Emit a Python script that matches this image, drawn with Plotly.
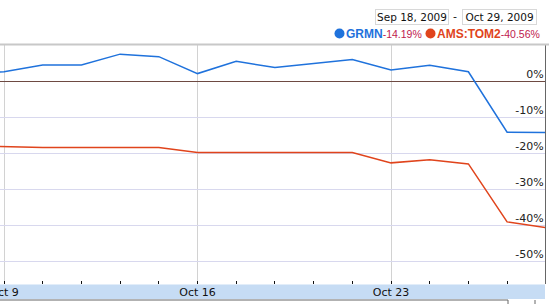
import plotly.graph_objects as go

# ---- data ----
dates = ["Oct 8", "Oct 9", "Oct 12", "Oct 13", "Oct 14", "Oct 15", "Oct 16",
         "Oct 19", "Oct 20", "Oct 21", "Oct 22", "Oct 23",
         "Oct 26", "Oct 27", "Oct 28", "Oct 29"]
grmn = [2.0, 2.7, 4.6, 4.6, 7.6, 6.9, 2.2, 5.6, 3.9, 5.0, 6.1, 3.2, 4.5, 2.7, -14.1, -14.19]
ams = [-17.9, -18.2, -18.3, -18.3, -18.3, -18.3, -19.7, -19.7, -19.7, -19.7, -19.7,
       -22.6, -21.7, -22.9, -39.0, -40.56]
major_labels = ["Oct 9", "Oct 16", "Oct 23"]
y_ticks = [0, -10, -20, -30, -40, -50]
range_start = "Sep 18, 2009"
range_end = "Oct 29, 2009"

BLUE = "#1f72dc"
RED = "#e0441c"
PCT = "#c0204e"

idx = list(range(len(dates)))
major_idx = [dates.index(d) for d in major_labels]

W, H = 549, 304
L, R, T, B = 0, 4, 44, 20
PW, PH = W - L - R, H - T - B


def px(x):
    return (x - L) / PW


def py(y):
    return (T + PH - y) / PH


fig = go.Figure()
fig.add_trace(go.Scatter(x=idx, y=grmn, mode="lines", line=dict(color=BLUE, width=1.5),
                         name="GRMN", showlegend=False))
fig.add_trace(go.Scatter(x=idx, y=ams, mode="lines", line=dict(color=RED, width=1.5),
                         name="AMS:TOM2", showlegend=False))

day_px = 38.7
x0 = major_idx[0] - 4 / day_px
x1 = x0 + PW / day_px

fig.update_xaxes(
    range=[x0, x1], tickvals=major_idx, ticktext=major_labels,
    showgrid=True, gridcolor="#d2d2d2", gridwidth=1,
    ticks="inside", ticklen=3, tickcolor="#111",
    ticklabeloverflow="allow", automargin=False,
    tickfont=dict(family="DejaVu Sans", size=11, color="#111"),
    minor=dict(tickvals=idx, ticks="inside", ticklen=3, tickcolor="#111", showgrid=False),
    zeroline=False, showline=False,
)
fig.update_yaxes(
    range=[-56.25, 10.42], side="right", tickvals=y_ticks,
    ticktext=[f"{v}%" for v in y_ticks], ticklabelposition="inside top",
    automargin=False,
    showgrid=True, gridcolor="#d8d8ee", gridwidth=1,
    zeroline=True, zerolinecolor="#6e4a42", zerolinewidth=1,
    tickfont=dict(family="DejaVu Sans", size=11, color="#222"),
    showline=True, linecolor="#666", linewidth=1, ticks="",
)


def dot(cx, cy, color, r=5):
    return dict(type="circle", xref="paper", yref="paper",
                xsizemode="pixel", ysizemode="pixel",
                xanchor=px(cx), yanchor=py(cy),
                x0=-r, x1=r, y0=-r, y1=r,
                fillcolor=color, line=dict(width=0))


shapes = [
    # x-axis band
    dict(type="rect", xref="paper", yref="paper", x0=0, x1=px(545), y0=py(284.5), y1=py(299),
         fillcolor="#c6dcf4", line=dict(width=0), layer="below"),
    # top border
    dict(type="line", xref="paper", yref="paper", x0=0, x1=px(549), y0=py(44.5), y1=py(44.5),
         line=dict(color="#c8c8c8", width=2)),
    # bottom scroll strip lines
    dict(type="line", xref="paper", yref="paper", x0=0, x1=px(508), y0=py(300), y1=py(300),
         line=dict(color="#666", width=1)),
    dict(type="line", xref="paper", yref="paper", x0=px(508), x1=px(508), y0=py(300), y1=py(304),
         line=dict(color="#666", width=1)),
    dict(type="line", xref="paper", yref="paper", x0=px(535), x1=px(535), y0=py(300), y1=py(304),
         line=dict(color="#666", width=1)),
    dot(339.5, 33.5, BLUE),
    dot(430.5, 33.5, RED),
]

annotations = [
    dict(xref="paper", yref="paper", x=px(375), y=py(9), xanchor="left", yanchor="top",
         text=range_start, showarrow=False, width=70, height=12, borderpad=1,
         bordercolor="#d8d8d8", borderwidth=1, bgcolor="white",
         font=dict(family="DejaVu Sans", size=10.5, color="#111")),
    dict(xref="paper", yref="paper", x=px(455), y=py(16.5), xanchor="center", yanchor="middle",
         text="-", showarrow=False, font=dict(family="DejaVu Sans", size=11, color="#111")),
    dict(xref="paper", yref="paper", x=px(462), y=py(9), xanchor="left", yanchor="top",
         text=range_end, showarrow=False, width=71, height=12, borderpad=1,
         bordercolor="#d8d8d8", borderwidth=1, bgcolor="white",
         font=dict(family="DejaVu Sans", size=10.5, color="#111")),
    dict(xref="paper", yref="paper", x=px(344), y=py(34), xanchor="left", yanchor="middle",
         showarrow=False,
         text=(f"<b>GRMN</b>"
               f"<span style='color:{PCT};font-size:10.5px'>{grmn[-1]:.2f}%</span>"),
         font=dict(family="Liberation Sans", size=12, color=BLUE)),
    dict(xref="paper", yref="paper", x=px(435), y=py(34), xanchor="left", yanchor="middle",
         showarrow=False,
         text=(f"<b>AMS:TOM2</b>"
               f"<span style='color:{PCT};font-size:10.5px'>{ams[-1]:.2f}%</span>"),
         font=dict(family="Liberation Sans", size=12, color=RED)),
]

fig.update_layout(
    width=W, height=H, margin=dict(l=L, r=R, t=T, b=B),
    paper_bgcolor="white", plot_bgcolor="white",
    shapes=shapes, annotations=annotations, showlegend=False,
)

fig.write_html("out.html")
